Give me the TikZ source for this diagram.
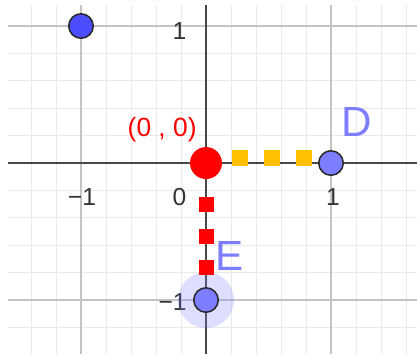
\documentclass[tikz,border=0pt]{standalone}
\usepackage{fontspec}
\setmainfont{Liberation Sans}
\usepackage{xcolor}
\usepackage{tikz}
\usetikzlibrary{positioning}

\definecolor{ggblue}{RGB}{77,77,255}
\definecolor{gglight}{RGB}{125,125,255}
\definecolor{ggorange}{RGB}{255,192,0}
\definecolor{ggminor}{RGB}{234,234,234}
\definecolor{ggmajor}{RGB}{196,196,196}
\definecolor{ggaxis}{RGB}{72,72,72}
\definecolor{ggtick}{RGB}{51,51,51}

\pgfdeclarelayer{gridlayer}
\pgfdeclarelayer{seglayer}
\pgfsetlayers{gridlayer,seglayer,main}

\begin{document}
\begin{tikzpicture}[x=2.5cm, y=2.74cm,
  pt/.style={circle, draw=black!85, line width=0.85pt, fill=gglight, minimum size=0.49cm, inner sep=0pt},
  ticklbl/.style={font=\fontsize{14}{16}\selectfont, text=ggtick, inner sep=0pt},
  ptlbl/.style={font=\fontsize{24}{28}\selectfont, text=gglight, inner sep=0pt},
  minorline/.style={ggminor, line width=0.5pt},
  majorline/.style={ggmajor, line width=0.9pt},
  axisline/.style={ggaxis, line width=1.3pt}]
\useasboundingbox (-1.648,-1.394) rectangle (1.688,1.190);
% grid and axes
\begin{pgfonlayer}{gridlayer}
\foreach \i in {-7,...,8} \draw[minorline] (\i*0.2,-1.394) -- (\i*0.2,1.153);
\foreach \i in {-6,...,5} \draw[minorline] (-1.584,\i*0.2) -- (1.688,\i*0.2);
\foreach \v in {-1,1} {
  \draw[majorline] (\v,-1.394) -- (\v,1.153);
  \draw[majorline] (-1.584,\v) -- (1.688,\v);
}
\draw[axisline] (-1.584,0) -- (1.688,0);
\draw[axisline] (0,-1.394) -- (0,1.153);
\node[ticklbl] (xm1) at (-0.992,-0.25) {−1};
\node[ticklbl] (x0) at (-0.212,-0.25) {0};
\node[ticklbl] (x1) at (1.016,-0.25) {1};
\node[ticklbl, anchor=east] (y1) at (-0.155,0.965) {1};
\node[ticklbl, anchor=east] (ym1) at (-0.152,-1.012) {−1};
\end{pgfonlayer}
% points
\node[pt, fill=ggblue] (A) at (-1,1) {};
\node[pt] (D) at (1,0) {};
\node[pt] (E) at (0,-1) {};
\node[circle, fill=red, minimum size=0.64cm, inner sep=0pt] (O) at (0,0) {};
\node[ptlbl, above right=0.34cm and 0.02cm of D] (Dlbl) {D};
\node[ptlbl, above right=0.39cm and 0cm of E] (Elbl) {E};
\node[font=\fontsize{15}{18}\selectfont, text=red, inner sep=0pt, above left=0.18cm and -0.05cm of O] (Olbl) {(0 , 0)};
% segments under the points
\begin{pgfonlayer}{seglayer}
\node[circle, fill=gglight, fill opacity=0.25, minimum size=1.12cm, inner sep=0pt] (Ehalo) at (E.center) {};
\draw[ggorange, line width=0.32cm, dash pattern=on 0.32cm off 0.32cm, shorten <=0.514cm] ([yshift=0.1cm]O.center) -- ([yshift=0.1cm]D.center);
\draw[red, line width=0.30cm, dash pattern=on 0.30cm off 0.33cm, shorten <=0.68cm] ([xshift=0.02cm]O.center) -- ([xshift=0.02cm]E.center);
\end{pgfonlayer}
\end{tikzpicture}
\end{document}
